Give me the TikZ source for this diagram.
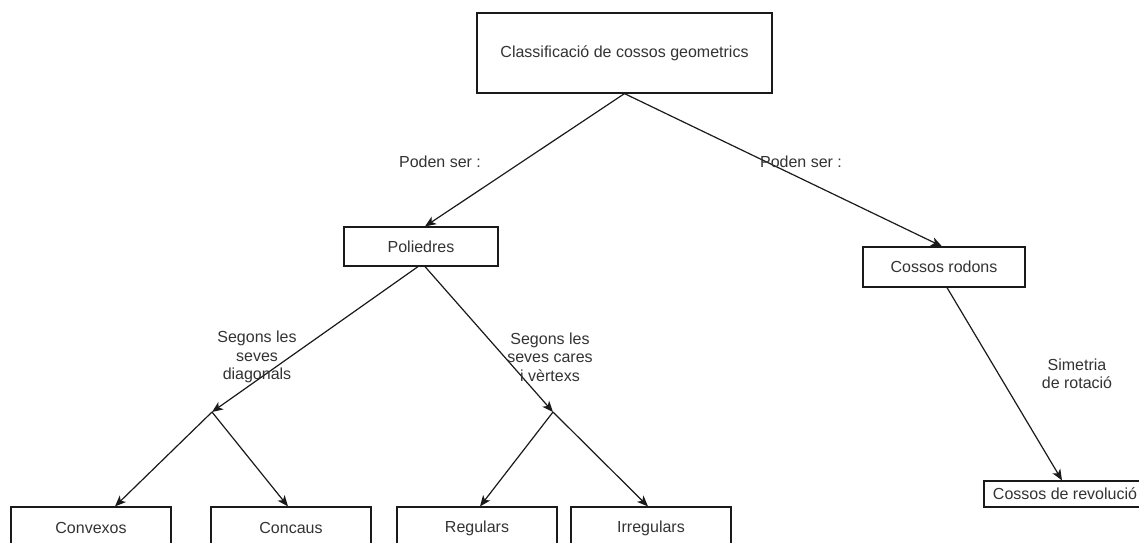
\documentclass[tikz,border=0pt]{standalone}
\usepackage{fontspec}
\setmainfont{Liberation Sans}
\usetikzlibrary{arrows.meta}
\definecolor{txt}{HTML}{333333}
\definecolor{ln}{HTML}{1A1A1A}
\tikzset{
  box/.style={draw=ln, line width=1.2pt, fill=white, text=txt, inner sep=0pt,
    font=\fontsize{16}{18.5}\selectfont},
  lbl/.style={text=txt, align=center, inner sep=0pt,
    font=\fontsize{16}{18.5}\selectfont},
  conn/.style={draw=ln, line width=1.2pt},
  arr/.style={conn, -{Stealth[length=11pt,width=9pt,inset=3pt]}}
}
\begin{document}
\begin{tikzpicture}[x=1pt,y=-1pt]
\useasboundingbox (0,0) rectangle (1139,542);
\clip (0,0) rectangle (1139,542);
\fill[white] (0,0) rectangle (1139,542);

% nodes
\node[box, minimum width=295pt, minimum height=80pt] (top) at (624.5,53) {Classificació de cossos geometrics};
\node[box, minimum width=154pt, minimum height=39pt] (poli) at (421,246.5) {Poliedres};
\node[box, minimum width=162pt, minimum height=40pt] (rod) at (944,267) {Cossos rodons};
\node[box, minimum width=162pt, minimum height=26pt] (rev) at (1065,494) {Cossos de revolució};
\node[box, minimum width=160pt, minimum height=42pt] (conv) at (91,528) {Convexos};
\node[box, minimum width=160pt, minimum height=42pt] (conc) at (291,528) {Concaus};
\node[box, minimum width=160pt, minimum height=42pt] (reg) at (477,528) {Regulars};
\node[box, minimum width=160pt, minimum height=42pt] (irr) at (651,528) {Irregulars};

\coordinate (b1) at (212,412);
\coordinate (b2) at (553,412);

% connectors
\draw[arr] (top.south) -- ([xshift=4pt]poli.north);
\draw[arr] (top.south) -- ([xshift=-2pt]rod.north);
\draw[arr] ([xshift=-3pt]poli.south) -- (b1);
\draw[arr] ([xshift=4pt]poli.south) -- (b2);
\draw[arr] (b1) -- ([xshift=24pt]conv.north);
\draw[arr] (b1) -- ([xshift=-3pt]conc.north);
\draw[arr] (b2) -- ([xshift=3pt]reg.north);
\draw[arr] (b2) -- ([xshift=-3pt]irr.north);
\draw[arr] ([xshift=3pt]rod.south) -- ([xshift=-3pt]rev.north);

% labels
\node[lbl] (l1) at (440,162) {Poden ser :};
\node[lbl] (l2) at (801,162) {Poden ser :};
\node[lbl] (l3) at (257,357) {Segons les\\seves\\diagonals};
\node[lbl] (l4) at (550,357) {Segons les\\seves cares\\i vèrtexs};
\node[lbl] (l5) at (1077,374) {Simetria\\de rotació};
\end{tikzpicture}
\end{document}
